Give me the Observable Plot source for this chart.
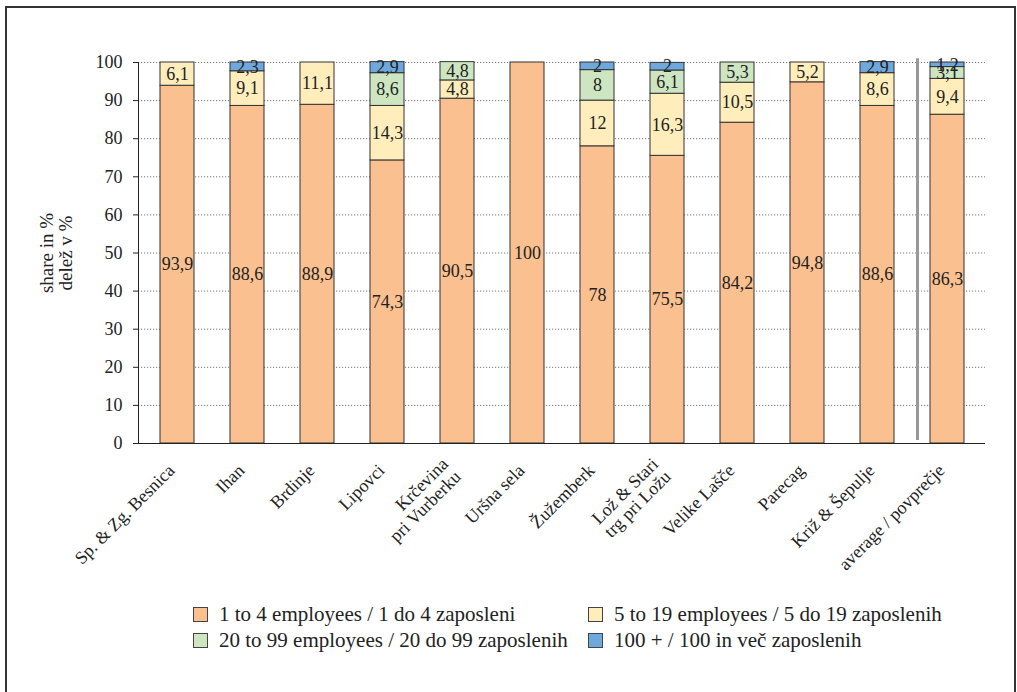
<!DOCTYPE html>
<html>
<head>
<meta charset="utf-8">
<script src="https://cdn.jsdelivr.net/npm/d3@7"></script>
<script src="https://cdn.jsdelivr.net/npm/@observablehq/plot@0.6"></script>
<style>
  html, body { margin: 0; padding: 0; background: #fff; }
  body { width: 1017px; height: 692px; position: relative; overflow: hidden; font-family: "Liberation Serif", "Times New Roman", serif; color: #222; }
  #frame { position: absolute; left: 5px; top: 6px; width: 1007px; height: 700px; border-left: 2.5px solid #333; border-top: 2.5px solid #333; border-right: 2.5px solid #333; box-sizing: content-box; pointer-events: none; }
  #chart { position: absolute; left: 0; top: 0; }
  #legend { position: absolute; left: 193px; top: 605px; display: grid; grid-template-columns: 395px auto; row-gap: 8px; font-size: 21px; }
  .item { display: flex; align-items: center; height: 18px; white-space: nowrap; }
  .sw { width: 13px; height: 13px; border: 1px solid #444; margin-right: 11px; flex: none; }
</style>
</head>
<body>
<div id="chart"></div>
<div id="legend"></div>
<div id="frame"></div>
<script>
const categories = [
  "Sp. & Zg. Besnica", "Ihan", "Brdinje", "Lipovci", "Krčevina\npri Vurberku", "Uršna sela",
  "Žužemberk", "Lož & Stari\ntrg pri Ložu", "Velike Lašče", "Parecag", "Križ & Šepulje", "average / povprečje"
];
const seriesNames = [
  "1 to 4 employees / 1 do 4 zaposleni",
  "5 to 19 employees / 5 do 19 zaposlenih",
  "20 to 99 employees / 20 do 99 zaposlenih",
  "100 + / 100 in več zaposlenih"
];
const emp1to4   = [93.9, 88.6, 88.9, 74.3, 90.5, 100, 78, 75.5, 84.2, 94.8, 88.6, 86.3];
const emp5to19  = [6.1, 9.1, 11.1, 14.3, 4.8, 0, 12, 16.3, 10.5, 5.2, 8.6, 9.4];
const emp20to99 = [0, 0, 0, 8.6, 4.8, 0, 8, 6.1, 5.3, 0, 0, 3.1];
const emp100    = [0, 2.3, 0, 2.9, 0, 0, 2, 2, 0, 0, 2.9, 1.2];
const yTicks = [0, 10, 20, 30, 40, 50, 60, 70, 80, 90, 100];
const colors = ["#FAC08F", "#FFEDBB", "#CDE6C1", "#6FA8DC"];

const seriesValues = [emp1to4, emp5to19, emp20to99, emp100];
const data = [];
seriesValues.forEach((vals, s) => {
  vals.forEach((v, i) => {
    if (v > 0) data.push({cat: categories[i], series: seriesNames[s], value: v});
  });
});
const fmt = v => String(v).replace(".", ",");
const FONT = "'Liberation Serif', 'Times New Roman', serif";

const chart = Plot.plot({
  width: 1017,
  height: 595,
  marginLeft: 138,
  marginRight: 32,
  marginTop: 62,
  marginBottom: 152,
  style: {fontFamily: FONT, fontSize: "18px", color: "#222", background: "transparent", overflow: "visible"},
  x: {domain: categories, paddingInner: 0.52, paddingOuter: 0.26, label: null},
  y: {domain: [0, 100], label: null},
  color: {domain: seriesNames, range: colors},
  marks: [
    Plot.gridY(yTicks.filter(d => d > 0), {stroke: "#777", strokeOpacity: 1, strokeDasharray: "1.2,1.8"}),
    Plot.barY(data, {x: "cat", y: "value", fill: "series", z: "series", order: seriesNames, stroke: "#333", strokeWidth: 1}),
    Plot.text(data, Plot.stackY({x: "cat", y: "value", z: "series", order: seriesNames, text: d => fmt(d.value), fontSize: 18, fill: "#222"})),
    Plot.ruleY([0], {stroke: "#222", strokeWidth: 1}),
    Plot.axisY({ticks: yTicks, tickSize: 5, tickPadding: 11, fontSize: 18, label: null}),
    Plot.axisX({tickSize: 0, tickRotate: -45, tickPadding: 24, dx: -6, fontSize: 18, label: null}),
    Plot.frame({anchor: "left", stroke: "#222"}),
    Plot.ruleX(["average / povprečje"], {y1: 0.8, y2: 101, stroke: "#999", strokeWidth: 3, dx: -30}),
    Plot.text(["share in %\ndelež v %"], {frameAnchor: "left", textAnchor: "middle", lineAnchor: "middle", rotate: -90, dx: -82, fontSize: 19, fill: "#222", lineHeight: 1.0})
  ]
});
document.getElementById("chart").appendChild(chart);

const legend = document.getElementById("legend");
[0, 1, 2, 3].forEach(i => {
  const item = document.createElement("div");
  item.className = "item";
  const sw = document.createElement("span");
  sw.className = "sw";
  sw.style.background = colors[i];
  const t = document.createElement("span");
  t.textContent = seriesNames[i];
  item.appendChild(sw);
  item.appendChild(t);
  legend.appendChild(item);
});
</script>
</body>
</html>
